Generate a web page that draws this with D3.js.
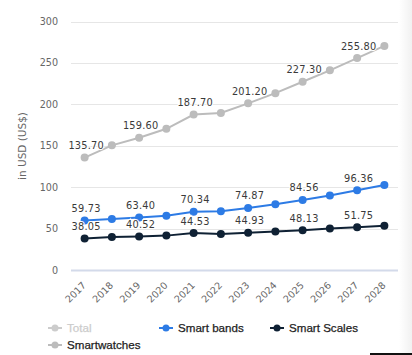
<!DOCTYPE html>
<html><head><meta charset="utf-8">
<script src="https://cdn.jsdelivr.net/npm/d3@7/dist/d3.min.js"></script>
<style>
html,body{margin:0;padding:0;background:#fff;}
svg{display:block;}
</style>
</head><body>
<svg id="c" width="412" height="355"></svg>
<script>
const years = ["2017","2018","2019","2020","2021","2022","2023","2024","2025","2026","2027","2028"];
const smartwatches = [135.70,150.5,159.60,170.5,187.70,189.5,201.20,213.5,227.30,241.0,255.80,270.5];
const smartBands = [59.73,61.5,63.40,65.5,70.34,70.8,74.87,79.3,84.56,90.0,96.36,102.5];
const smartScales = [38.05,39.8,40.52,41.5,44.53,43.5,44.93,46.5,48.13,50.0,51.75,53.5];
const yTicks = [0,50,100,150,200,250,300];
const seriesNames = ["Smartwatches","Smart bands","Smart Scales"];
const legendNames = ["Total","Smart bands","Smart Scales","Smartwatches"];
const yTitle = "in USD (US$)";

const svg = d3.select("#c");
const x = d3.scalePoint().domain(years).range([71,398]).padding(0.5);
const y = d3.scaleLinear().domain([0,300]).range([270,21.5]);

// right-side shading
const defs = svg.append("defs");
const g = defs.append("linearGradient").attr("id","sh").attr("x1","0").attr("x2","1");
g.append("stop").attr("offset","0").attr("stop-color","#ffffff");
g.append("stop").attr("offset","1").attr("stop-color","#f1f1f1");
svg.append("rect").attr("x",399).attr("y",0).attr("width",13).attr("height",355).attr("fill","url(#sh)");

// grid
svg.append("g").selectAll("line").data(yTicks).join("line")
  .attr("x1",71).attr("x2",398)
  .attr("y1",d=>Math.round(y(d))+0.5).attr("y2",d=>Math.round(y(d))+0.5)
  .attr("stroke",d=>d===0?"#d3daea":"#e6e6e6").attr("stroke-width",d=>d===0?2:1);

// y labels
svg.append("g").selectAll("text").data(yTicks).join("text")
  .attr("x",58).attr("y",d=>y(d)+3.5).attr("text-anchor","end")
  .attr("font-family","DejaVu Sans").attr("font-size",9.6).attr("fill","#666")
  .text(d=>d);

svg.append("text").attr("transform","translate(26,146) rotate(-90)")
  .attr("text-anchor","middle").attr("font-family","DejaVu Sans").attr("font-size",10.5)
  .attr("fill","#666").text(yTitle);

// x labels
svg.append("g").selectAll("text").data(years).join("text")
  .attr("transform",d=>`translate(${x(d)+2},286) rotate(-45)`)
  .attr("text-anchor","end").attr("font-family","DejaVu Sans").attr("font-size",9.6)
  .attr("fill","#666").text(d=>d);

const series = [
  {name:seriesNames[0], values:smartwatches, color:"#bcbcbc"},
  {name:seriesNames[1], values:smartBands, color:"#2d7be5"},
  {name:seriesNames[2], values:smartScales, color:"#0f2134"}
];
const line = d3.line().x((d,i)=>x(years[i])).y(d=>y(d));
series.forEach(s=>{
  const gg = svg.append("g");
  gg.append("path").attr("d",line(s.values)).attr("fill","none")
    .attr("stroke",s.color).attr("stroke-width",2);
  gg.selectAll("circle").data(s.values).join("circle")
    .attr("cx",(d,i)=>x(years[i])).attr("cy",d=>y(d)).attr("r",4).attr("fill",s.color);
});
// data labels (every other point shown)
series.forEach(s=>{
  svg.append("g").selectAll("text").data(s.values.map((v,i)=>({v,i})).filter(d=>d.i%2===0)).join("text")
    .attr("x",d=>x(years[d.i])+1.5).attr("y",d=>y(d.v)-8.5)
    .attr("text-anchor","middle").attr("font-family","DejaVu Sans").attr("font-size",9.8)
    .attr("letter-spacing",0.2)
    .attr("fill","#3a3a3a").attr("stroke","#fff").attr("stroke-width",2).attr("paint-order","stroke")
    .text(d=>d.v.toFixed(2));
});

// legend
const legend = [
  {name:legendNames[0], color:"#cccccc", tx:48, ty:332, textColor:"#cccccc"},
  {name:legendNames[1], color:"#2d7be5", tx:159, ty:332, textColor:"#222"},
  {name:legendNames[2], color:"#0f2134", tx:270, ty:332, textColor:"#222"},
  {name:legendNames[3], color:"#bcbcbc", tx:48, ty:349, textColor:"#222"}
];
const lg = svg.append("g").selectAll("g").data(legend).join("g")
  .attr("transform",d=>`translate(${d.tx},${d.ty})`);
lg.append("line").attr("x1",0).attr("x2",14).attr("y1",-4).attr("y2",-4)
  .attr("stroke",d=>d.color).attr("stroke-width",2);
lg.append("circle").attr("cx",7).attr("cy",-4).attr("r",3.5).attr("fill",d=>d.color);
lg.append("text").attr("x",19).attr("y",0).attr("font-family","Liberation Sans")
  .attr("font-size",11.6).attr("font-weight","normal").attr("fill",d=>d.textColor)
  .attr("stroke",d=>d.textColor).attr("stroke-width",0.25).text(d=>d.name);

svg.append("rect").attr("x",370).attr("y",353).attr("width",42).attr("height",2).attr("fill","#111");
</script>
</body></html>
